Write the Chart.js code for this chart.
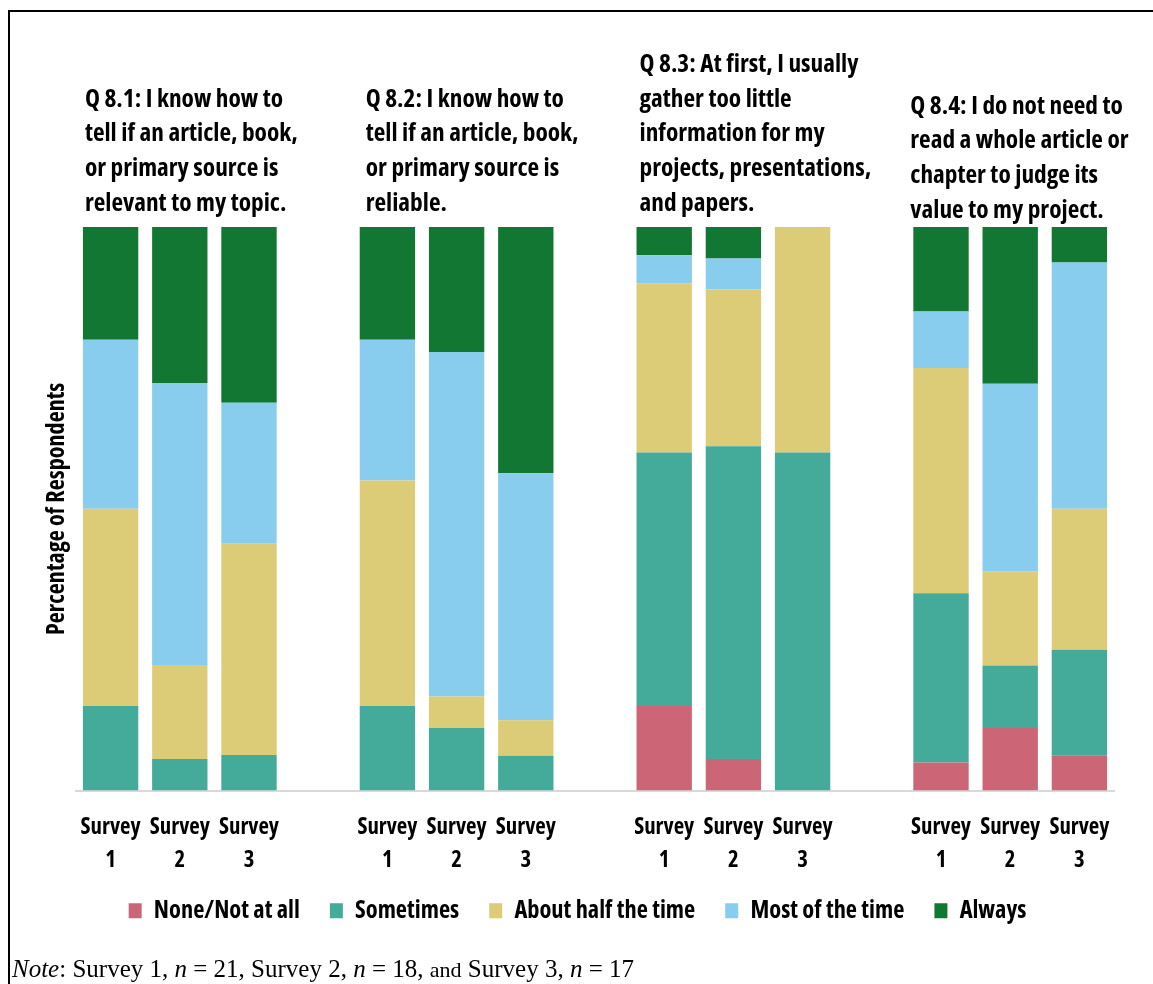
<!DOCTYPE html>
<html>
<head>
<meta charset="utf-8">
<script src="https://cdn.jsdelivr.net/npm/chart.js@4.4.1/dist/chart.umd.min.js"></script>
<style>
html,body{margin:0;padding:0;background:#fff;overflow:hidden;width:1153px;height:984px}
#wrap{position:relative;width:1153px;height:984px}
canvas{position:absolute;left:0;top:0}
#frame{position:absolute;left:8px;top:10px;width:2000px;height:2000px;border-top:2px solid #000;border-left:2px solid #000;box-sizing:border-box;pointer-events:none}
#note{position:absolute;left:12px;top:956px;font-family:'Liberation Serif','DejaVu Serif',serif;font-size:25px;line-height:1;color:#000;white-space:nowrap}
#note .sm{font-size:22px}
</style>
</head>
<body>
<div id="wrap">
<canvas id="c" width="1153" height="984"></canvas>
<div id="frame"></div>
<div id="note"><i>Note</i>: Survey 1, <i>n</i> = 21, Survey 2, <i>n</i> = 18, <span class="sm">and</span> Survey 3, <i>n</i> = 17</div>
</div>
<script>
// ---------------- data ----------------
const surveys = [["Survey", "1"], ["Survey", "2"], ["Survey", "3"]];
const questionTitles = [
  ["Q 8.1: I know how to", "tell if an article, book,", "or primary source is", "relevant to my topic."],
  ["Q 8.2: I know how to", "tell if an article, book,", "or primary source is", "reliable."],
  ["Q 8.3: At first, I usually", "gather too little", "information for my", "projects, presentations,", "and papers."],
  ["Q 8.4: I do not need to", "read a whole article or", "chapter to judge its", "value to my project."]
];
const seriesNames = ["None/Not at all", "Sometimes", "About half the time", "Most of the time", "Always"];
// percentages, order: Q8.1 S1,S2,S3 | Q8.2 S1,S2,S3 | Q8.3 S1,S2,S3 | Q8.4 S1,S2,S3
const noneNotAtAll = [0, 0, 0,    0, 0, 0,       15, 5.6, 0,    5, 11.1, 6.2];
const sometimes    = [15, 5.6, 6.3, 15, 11.1, 6.2, 45, 55.5, 60, 30, 11.1, 18.8];
const aboutHalf    = [35, 16.7, 37.5, 40, 5.6, 6.3, 30, 27.8, 40, 40, 16.7, 25];
const mostOfTime   = [30, 50, 25, 25, 61.1, 43.8, 5, 5.5, 0,    10, 33.3, 43.7];
const always       = [20, 27.7, 31.2, 20, 22.2, 43.7, 5, 5.6, 0, 15, 27.8, 6.3];
const seriesColors = ["#CC6677", "#44AA99", "#DDCC77", "#88CCEE", "#117733"];

// ---------------- build slots (blank slot between questions) ----------------
const nQ = questionTitles.length, nS = surveys.length;
const labels = [];
for (let q = 0; q < nQ; q++) {
  surveys.forEach(s => labels.push(s));
  if (q < nQ - 1) labels.push("");
}
function toSlots(arr) {
  const out = [];
  for (let q = 0; q < nQ; q++) {
    for (let s = 0; s < nS; s++) out.push(arr[q * nS + s]);
    if (q < nQ - 1) out.push(null);
  }
  return out;
}
const seriesValues = [noneNotAtAll, sometimes, aboutHalf, mostOfTime, always];

// ---------------- font selection ----------------
const mctx = document.createElement('canvas').getContext('2d');
function w(font, s) { mctx.font = font; return mctx.measureText(s).width; }
const probe = 'abcdefghijklmnopqrstuvwxyzQ0123456789';
function hasFont(f) { return Math.abs(w("bold 40px '" + f + "', monospace", probe) - w("bold 40px monospace", probe)) > 0.5; }
let FAMILY = "'Liberation Sans Narrow', 'DejaVu Sans Condensed', 'Open Sans', sans-serif";
let WEIGHT = 'bold';
if (hasFont('Open Sans') && w("bold condensed 40px 'Open Sans'", probe) < w("bold 40px 'Open Sans'", probe) - 5) {
  FAMILY = "'Open Sans', sans-serif"; WEIGHT = 'bold condensed';
} else if (hasFont('Liberation Sans Narrow')) {
  FAMILY = "'Liberation Sans Narrow', sans-serif";
} else if (hasFont('DejaVu Sans Condensed')) {
  FAMILY = "'DejaVu Sans Condensed', sans-serif";
} else if (hasFont('Roboto Condensed')) {
  FAMILY = "'Roboto Condensed', sans-serif";
}
function fit(text, target) {
  const base = w(WEIGHT + " 40px " + FAMILY, text);
  return Math.round(40 * target / base * 10) / 10;
}
const titleSize  = fit("Q 8.1: I know how to", 198);
const tickSize   = fit("Survey", 60);
const legendSize = fit("None/Not at all", 146);
const yTitleSize = fit("Percentage of Respondents", 252);

// ---------------- plugin: question titles above each group ----------------
const groupTitlePlugin = {
  id: 'groupTitles',
  afterDraw(chart, args, opts) {
    const x = chart.scales.x;
    const ctx = chart.ctx;
    const pitch = x.getPixelForValue(1) - x.getPixelForValue(0);
    ctx.save();
    ctx.font = WEIGHT + " " + titleSize + "px " + FAMILY;
    ctx.fillStyle = '#000';
    ctx.textAlign = 'left';
    ctx.textBaseline = 'alphabetic';
    questionTitles.forEach((lines, q) => {
      const first = q * (nS + 1);
      const left = x.getPixelForValue(first) - pitch * 0.4 + opts.dx[q];
      const lastBase = chart.chartArea.top - opts.gap[q];
      lines.forEach((ln, i) => {
        ctx.fillText(ln, left, lastBase - (lines.length - 1 - i) * opts.lineStep);
      });
    });
    ctx.restore();
  }
};

new Chart(document.getElementById('c'), {
  type: 'bar',
  data: {
    labels: labels,
    datasets: seriesNames.map((name, i) => ({
      label: name,
      data: toSlots(seriesValues[i]),
      backgroundColor: seriesColors[i],
      borderWidth: 0,
      barPercentage: 0.8,
      categoryPercentage: 1.0
    }))
  },
  options: {
    responsive: false,
    animation: false,
    devicePixelRatio: 1,
    layout: { padding: { top: 227, left: 41, right: 39, bottom: 51 } },
    plugins: {
      legend: {
        position: 'bottom',
        labels: {
          boxWidth: 13, boxHeight: 15, padding: 30, color: '#000',
          font: { family: FAMILY, weight: WEIGHT, size: legendSize }
        }
      },
      tooltip: { enabled: false },
      groupTitles: { dx: [2, 6, 3, -3], gap: [16, 16, 16, 9], lineStep: 34.8 }
    },
    scales: {
      x: {
        stacked: true,
        offset: true,
        afterFit: (s) => { s.height = 78; },
        grid: { display: false, drawTicks: false },
        border: { display: true, color: '#d9d9d9', width: 2 },
        ticks: {
          autoSkip: false, maxRotation: 0, padding: 20, color: '#000',
          font: { family: FAMILY, weight: WEIGHT, size: tickSize, lineHeight: '33px' }
        }
      },
      y: {
        stacked: true,
        min: 0, max: 100,
        grid: { display: false, drawTicks: false },
        border: { display: false },
        ticks: { display: false },
        title: {
          display: true, text: 'Percentage of Respondents', color: '#000',
          padding: { top: 4, bottom: 7 },
          font: { family: FAMILY, weight: WEIGHT, size: yTitleSize, lineHeight: '24px' }
        }
      }
    }
  },
  plugins: [groupTitlePlugin]
});
</script>
</body>
</html>
